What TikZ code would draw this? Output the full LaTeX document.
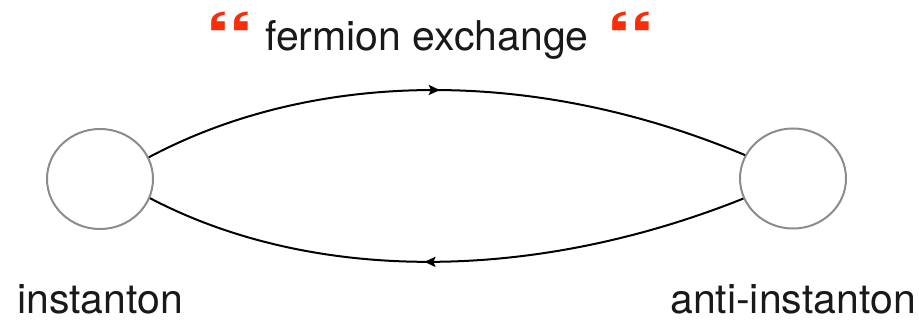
\documentclass[tikz,border=0pt]{standalone}
\usepackage{fontspec}
\setmainfont{TeX Gyre Heros}
\usetikzlibrary{shapes.geometric,arrows.meta,decorations.markings}
\definecolor{quotered}{RGB}{250,45,10}
\definecolor{ringgray}{RGB}{140,140,140}
\definecolor{ink}{RGB}{25,25,25}
\tikzset{
  blob/.style={ellipse, draw=ringgray, line width=2pt, minimum width=106pt, minimum height=100pt, inner sep=0pt},
  label/.style={font=\fontsize{41}{48}\selectfont, text=ink, anchor=base, inner sep=0pt},
  quotemark/.style={font=\fontsize{72}{80}\selectfont\bfseries, text=quotered, anchor=base, inner sep=0pt, xscale=1.4},
  propmark/.style={decoration={markings, mark=at position #1 with {\arrow{Stealth[length=11pt,width=10pt,inset=2pt]}}}},
  prop/.style={line width=2pt, black, postaction={decorate}}
}
\begin{document}
\begin{tikzpicture}[x=1pt,y=-1pt]
\useasboundingbox (0,0) rectangle (919,321);
\node[blob] (inst) at (100,179) {};
\node[blob] (anti) at (793,178.5) {};
\node[label] (linst) at (100,313) {instanton};
\node[label] (lanti) at (793,313) {anti-instanton};
\node[label] (title) at (427,51) {fermion exchange};
\node[quotemark] (q1) at (229.5,65) {“};
\node[quotemark] (q2) at (631,65) {“};
\draw[prop, propmark=0.49] (inst.24) .. controls (315,69) and (535,67) .. (anti.154);
\draw[prop, propmark=0.535] (anti.202) .. controls (532,283) and (312,283) .. (inst.-21);
\end{tikzpicture}
\end{document}
